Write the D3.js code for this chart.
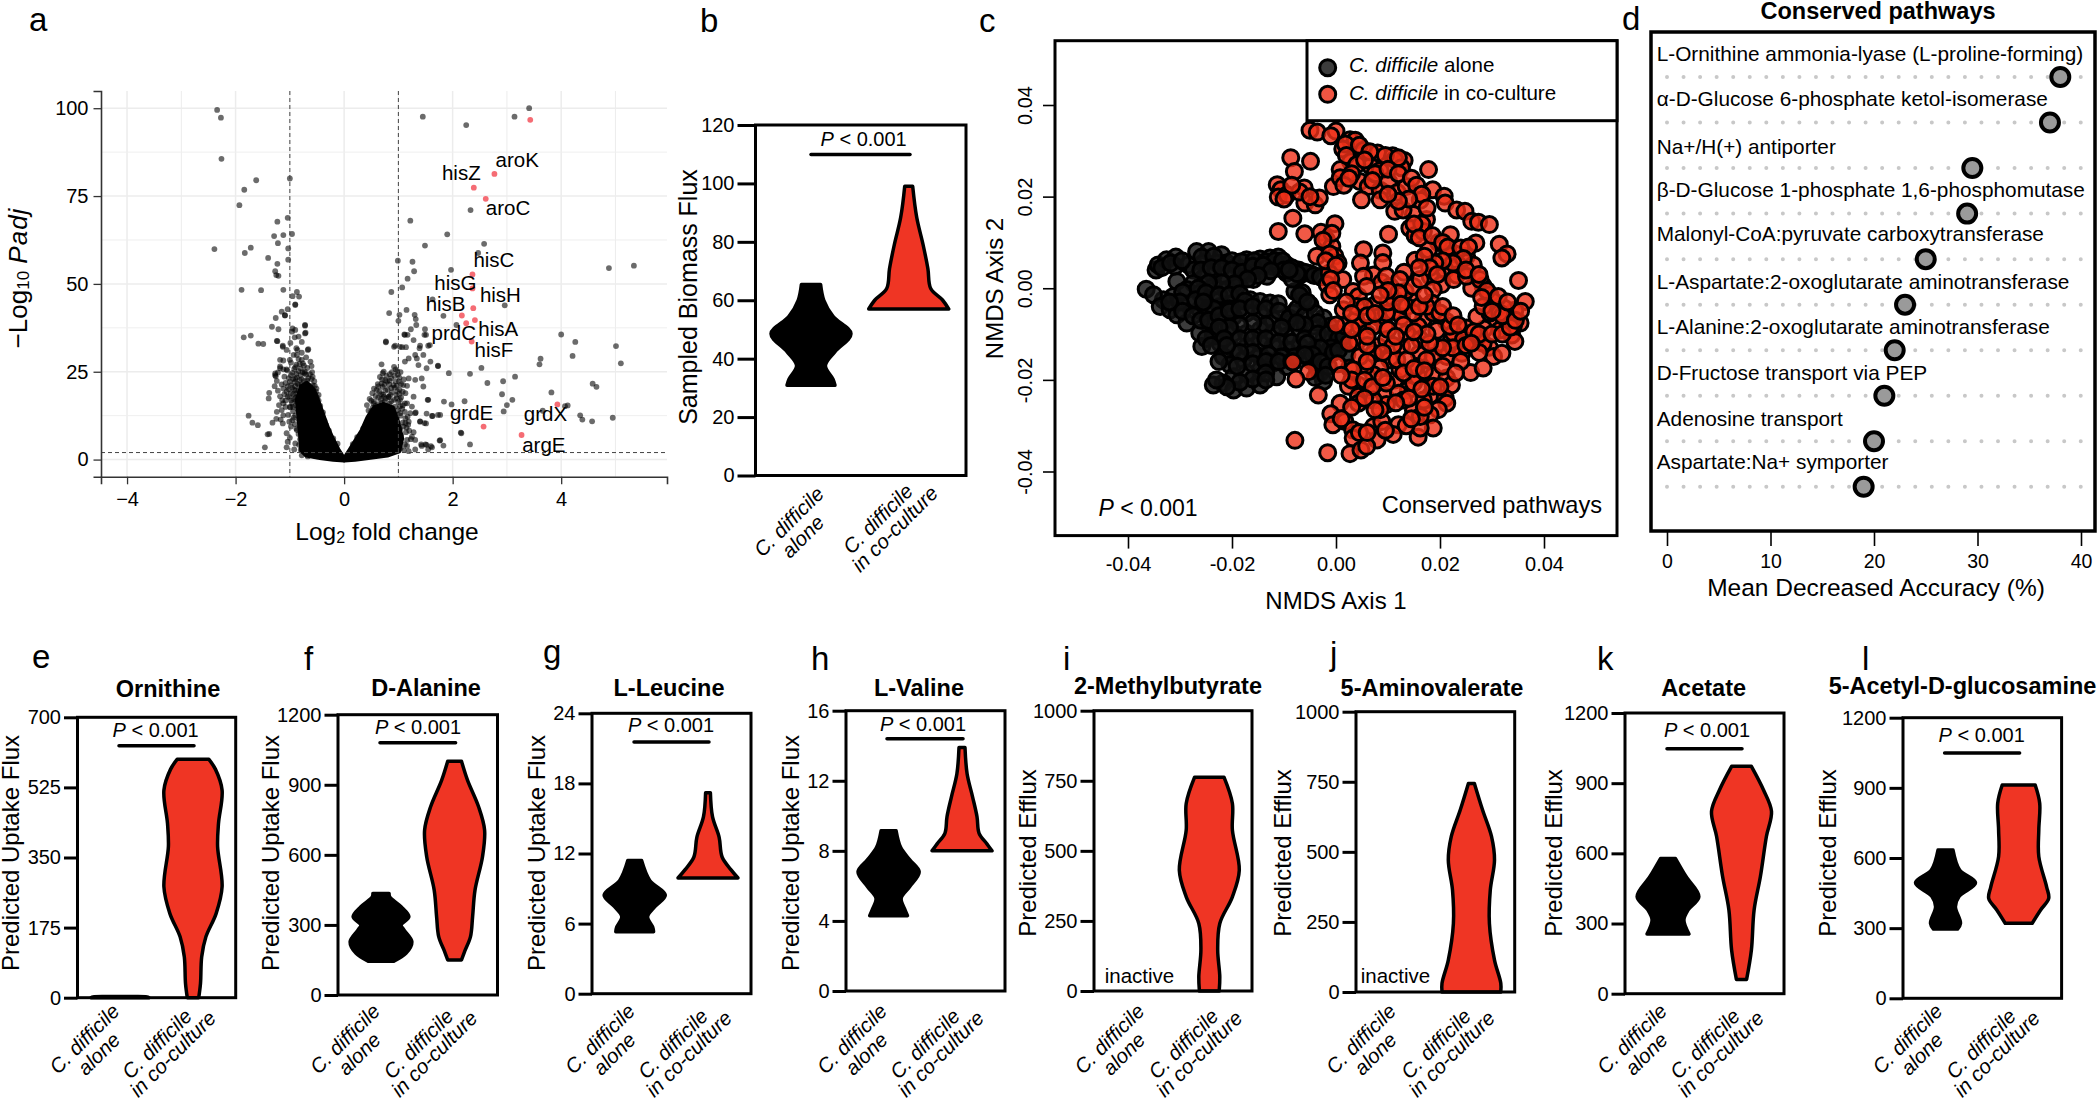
<!DOCTYPE html>
<html><head><meta charset="utf-8">
<script src="https://d3js.org/d3.v7.min.js"></script>
<style>
html,body{margin:0;padding:0;background:#fff}
svg{display:block;font-family:"Liberation Sans",Arial,sans-serif}
text{fill:#000}
</style></head><body>
<svg id="chart" width="2100" height="1102"></svg>
<script>
/* ---------- panel a: volcano (log2 fold change, -log10 Padj) ---------- */
const volcanoSparse=[[-2.34,99.5],[-2.27,97.3],[-2.26,85.6],[-1.62,79.5],[-1.84,76.8],[-1.93,72.4],[-1,80],[-1.04,68.8],[-1.23,67.7],[-.96,64.2],[-1.12,63.9],[-1.29,63.6],[-1.22,61.6],[-1.03,60.1],[-1.72,60.3],[-1.83,58.8],[-2.39,59.9],[-1.4,57.4],[-1.03,56.9],[-1.23,55.7],[-1.27,53.6],[-1.25,52.5],[-1.21,52.3],[-1.89,48.3],[-1.53,48.2],[-1.12,48.3],[-.87,47.7],[-.95,46.5],[-.83,46.4],[-.9,44.2],[-.9,44],[-1.04,42.8],[-1.15,42.1],[-1.09,41.1],[-1.09,41],[-1.26,40.3],[-1.33,37.8],[-1.21,37.1],[-.95,37.3],[-.72,38.1],[-.71,36.1],[-1.85,34.8],[-1.72,35.3],[-1.58,33],[-1.49,32.9],[-1.23,33.7],[-1.13,32.4],[-.99,33.2],[-.91,34.8],[-.66,31.4],
[1.45,97.6],[2.25,95.2],[3.14,97.6],[3.41,100],[1.22,68],[1.9,64.1],[1.49,60.9],[2.58,61.4],[2.33,71],[2.47,58.8],[.99,56.6],[1.26,56.3],[1.29,53.6],[1.17,51.5],[1.97,54],[1.07,49],[.87,47.7],[1.63,45.6],[2.96,43.9],[1.15,42.6],[.83,41.7],[1.02,41.2],[1.3,41.2],[1.32,40],[1.83,40.9],[1,39.5],[1.33,38.3],[1.49,37.1],[2.07,38.3],[1.11,35.6],[1.23,37.1],[1.51,35.5],[1.17,35.5],[.77,33.4],[.94,32.4],[1.07,32],[1.4,32.4],[1.58,32.6],[4.88,54.5],[5.34,55.2],[4,35.6],[4.26,33.5],[5.01,32.3],[4.21,29.5],[3.62,28.7],[5.1,27.4],[3.6,27.1],[2.53,26.1],[1.73,26.7],[2.32,24.4],[1.93,24.6],[3.15,23.6],[2.64,21.8],[2.93,22.3],[4.58,21.6],[4.65,20.7],[2.91,18.6],[3.82,19.1],[3.1,17],[4.07,15.2],[4.12,15.4],[3,15.5],[2.22,16.6],[1.84,16.5],[1.55,17],[1.98,15.7],[2.94,13.7],[3.66,13.9],[4.35,12.6],[4.39,11.4],[4.57,10.9],[4.95,11.9],[2.16,7.5],[2.32,4.3],[1.77,5.5],[1.83,4],[1.63,12.4],[1.77,12.7],[1.52,13.1],[1.5,4.3],[1.55,2.9],[1.6,3.8],[1.42,4.3],[1.19,2.4],[1.32,13.4],[1.4,10.9],[1.48,10.4],[1.23,5.8],[1.28,7.8]];
const volcanoLeftCloud=[[-1.46,3.5],[-1.41,7.2],[-1.38,7.3],[-1.06,3.5],[-1.04,5.1],[-1.06,7.5],[-1.76,12.5],[-1.69,10.5],[-1.59,9.8],[-1.32,10.5],[-1.25,11.6],[-1.24,13.6],[-1.15,14.1],[-1.38,19],[-1.22,19.6],[-1.39,17.4],[-1.27,24],[-1.12,25.7],[-1.04,20.8],[-1.12,16],[-1,15],[-1.03,12.7],[-1.13,10.3],[-.87,8.4],[-.9,4.6],
[-.96,36.4],[-.9,36.9],[-.72,38.3],[-.72,35.9],[-.84,35],[-.78,33.5],[-.67,31.2],[-.88,31.7],[-1.06,31.2],[-1.13,32.1],[-1.24,33.8],[-.87,29.8],[-1,28.4],[-1.18,28.4],[-.78,28.4],[-.6,26.6],[-1.18,26],[-1.06,25.7],[-.72,25],[-.58,23.6],[-1.27,24.5],
[-.86,31.2],[-.78,30.4],[-.93,29.8],[-.7,29.1],[-.84,28.6],[-1.12,28.2],[-.98,27.6],[-.76,27.4],[-.62,27.9],[-1.18,26.5],[-.9,26.3],[-.8,25.9],[-.68,26.1],[-1.05,25.4],[-1.22,24.8],[-.95,24.7],[-.73,24.6],[-.59,24.9],[-1.26,23.7],[-1.1,23.6],[-.87,23.4],[-.66,23.2],[-.78,22.9],[-1.24,22.4],[-1,22.2],[-.91,22.1],[-.55,22.3],[-.7,21.6],[-1.15,21.4],[-.83,21.2],[-1.28,20.9],[-.62,20.7],[-.96,20.5],[-.76,20.4],[-.51,20.2],[-.89,19.7],[-.68,19.4],[-.57,19.1],[-1.06,19.3],[-.8,18.9],[-.94,18.6],[-.72,18.3],[-.61,18.1],[-.47,18.4],[-.85,18],[-1.01,17.8],[-.75,17.5],[-.92,17.2],[-.55,17.4],[-1.08,16.8],[-.83,16.6],[-.67,16.5],[-.96,16.2],[-.5,16.1],[-.78,15.8],[-.89,15.4],[-.99,14.9],[-.62,15.2],[-.44,15.3],[-.86,14.4],[-.7,14.1],[-.94,13.7],[-.55,13.9],[-.82,13.2],[-.39,13.4],[-.9,12.6],[-.66,12.3],[-.48,12.1],[-.84,11.5],[-.95,11.2],[-.76,10.7],[-.91,10.1],[-.36,11],[-.82,9.6],[-.88,8.8],[-.98,9.4],[-.84,7.3],[-.81,5.8],[-.83,4.2],[-.8,2.8],[-1,6.2],[-.92,2.9],[-.28,8.2],[-.2,6],[-.12,4.5],[-.78,1.2],[-.67,.9],
[-.88,27],[-.82,27.2],[-.74,26.7],[-.92,25.8],[-.84,25.2],[-.77,24.9],[-.7,24.2],[-.8,24],[-.88,24.4],[-.98,24],[-.63,24.3],[-.9,23],[-.82,22.6],[-.74,22.4],[-.68,22.5],[-.6,22.9],[-1.02,23.2],[-.94,22.9],[-.86,21.6],[-.78,21.3],[-.66,21],[-.58,21.2],[-1.08,21.8],[-.98,21.2],[-.9,20.9],[-.72,20.7],[-.54,21],[-1.12,20.2],[-1.02,20],[-.92,19.9],[-.84,19.6],[-.76,19.5],[-.62,19.6],[-.52,19.3],[-1.1,18.6],[-.98,18.9],[-.88,18.8],[-.66,18.6],[-.54,18.5],[-1.04,17.9],[-.9,17.6],[-.82,17.7],[-.5,17.7],[-1.18,18],[-1.14,16.9],[-.98,16.8],[-.88,16.7],[-1.2,15.5],[-1.08,15],[-.95,15],[-.47,16.8],[-1.12,12.6],[-1.17,11.4],[-.93,11.9],[-1.01,10.8],[-.44,13.2],[-.41,12],[-.33,9.8]];
const volcanoRightCloud=[[1.28,17.9],[1.54,17],[1.62,12.4],[1.73,12.7],[1.31,13.2],[1.4,10.8],[1.51,10.3],[1.25,6.5],[1.31,5.6],[2.15,7.7],[1.76,5.4],[1.43,3.9],[1.52,4.2],[1.62,3.5],[1.31,2.9],[1.16,5.6],[1.09,9.4],[1.19,10.8],[1.22,13.2],[1.12,16],[1.25,15.1],[1.46,20.8],[1.43,23.1],[1.31,22.7],[1.19,23.1],[1.52,26],[1.73,26.6],[1.59,27.9],[1.37,26.9],[1.34,28.8],[1.12,27.9],[1.19,28.8],[1.31,29.8],[1.46,29.8],[1.55,32.4],[1.39,31.7],[1.28,34],[1.12,35.5],[1.48,35.5],[.77,33.6],[.92,32.1],[1.03,32.1],[1.14,32],[.69,27.1],[.73,25],[.92,26.4],
[.69,21.7],[.79,22.2],[.91,21.2],[1.09,21.2],[.63,20.8],[.82,17.9],[.73,17.9],[.54,16],[.6,14.1],[1.03,17],[1.16,16],
[.95,25.7],[.98,25.2],[.71,24.6],[.84,24.3],[1.04,24.9],[.87,23.2],[.66,23.5],[1.02,23.3],[1.1,22.8],[.76,22.6],[.95,22.2],[.62,21.5],[.83,21.4],[1.05,21.5],[1.16,21],[.71,20.7],[.93,20.5],[.55,20.2],[.8,19.9],[1.02,19.9],[.65,19.3],[.88,19.1],[1.13,18.9],[.72,18.5],[.96,18.4],[.58,18.1],[.82,17.8],[1.05,17.7],[.47,17.3],[.68,17.2],[.92,17],[.75,16.5],[.55,16.5],[1,16.4],[.84,15.9],[.63,15.8],[.42,15.5],[1.08,15.4],[.94,15.1],[.72,15],[.53,14.8],[.84,14.4],[.64,14.1],[.99,14],[.45,14],[1.12,13.6],[.76,13.4],[.91,13.2],[.56,13.3],[.67,12.6],[1.04,12.5],[.83,12.3],[.47,12.5],[.97,11.8],[1.13,11.7],[.6,11.9],[.75,12],[1.08,10.5],[1.03,8.7],[1.14,7.8],[1.05,6.9],[1.12,4.3],[1.04,3.2],[.9,2.7],[.8,1.6],[1.15,9.1],[.35,8.8],[.24,6.4],[.16,4.4],
[.99,24.2],[.88,24.9],[.78,23.8],[.93,23.8],[.7,22.8],[.84,22.5],[1.01,22.2],[.74,21.3],[.97,21],[.87,20.4],[.6,19.8],[.76,19.6],[.98,19.4],[1.08,19.3],[.52,18.9],[.68,18.6],[.85,18.4],[1.02,18.6],[.63,17.6],[.77,17.4],[.97,17.4],[.5,16.8],[.87,16.6],[.7,16.2],[.58,15.3],[.8,15.2],[1.03,15.2],[.66,14.8],[.9,14.4],[1.07,14.5],[.5,13.7],[.7,13.8],[.85,13.6],[1.03,13.2],[.62,13],[.96,12.8],[1.17,12.2],[1.18,9.9],[1.13,10.4],[1.2,8.2],[1.1,2.7],[1.16,3.9]];
const volcanoDenseLeft=[[0,.6],[-.1,3],[-.2,6],[-.3,9.5],[-.38,13],[-.45,16],[-.55,20],[-.68,22],[-.8,21],[-.88,17],[-.85,12],[-.82,7],[-.8,2.5],[-.7,1],[-.45,.3],[-.2,-.2],[0,-.4]];
const volcanoDenseRight=[[0,.6],[.1,3],[.2,5.5],[.32,8.5],[.42,12],[.55,15],[.72,16],[.9,15],[1,11],[1.08,6],[1.02,2.2],[.8,1],[.45,.3],[.2,-.2],[0,-.4]];
const volcanoHighlight=[[3.43,96.7],[2.77,81.3],[2.39,77.4],[2.61,74.2],[2.365,52.7],[2.365,48.7],[2.38,43.1],[2.17,41],[2.25,38.8],[2.41,39.7],[2.35,33.6],[2.57,9.4],[3.27,7],[3.93,15.7]];
const geneNames=["aroK","hisZ","aroC","hisC","hisG","hisH","hisB","hisA","prdC","hisF","grdE","grdX","argE"];
const geneLabelX=[3.19,2.16,3.02,2.76,2.05,2.88,1.87,2.84,2.02,2.76,2.35,3.71,3.68];
const geneLabelY=[84.9,81,71.1,56.3,49.8,46.5,43.9,36.6,35.7,30.6,12.7,12.4,3.8];

/* ---------- panel c: NMDS ordination, axis values in units of 1e-4 ---------- */
const nmdsAlone=[[-346,40],[-342,51],[-326,62],[-308,68],[-310,48],[-284,51],[-268,80],[-245,80],[-220,73],[-229,55],[-255,55],[-274,40],[-210,55],[-191,48],[-172,62],[-146,64],[-127,66],[-111,68],[-95,51],[-72,40],[-50,32],[-121,48],[-146,40],[-165,33],[-185,19],[-210,26],[-236,29],[-255,22],[-274,11],[-306,15],[-287,-3],[-313,-18],[-332,-25],[-365,-2],[-351,-14],[-338,-40],[-319,-47],[-306,-58],[-287,-76],[-262,-47],[-236,-25],[-210,-3],[-191,4],[-159,19],[-133,26],[-95,33],[-69,29],[-262,-11],[-236,4],[-281,-32],[-249,-54],[-223,-40],[-197,-32],[-165,-25],[-146,-29],[-127,-32],[-111,-34],[-79,-7],[-63,-25],[-50,-36],[-24,-65],[-12,-83],[-82,-54],[-95,-76],[-121,-69],[-146,-54],[-172,-54],[-197,-62],[-217,-76],[-242,-83],[-262,-98],[-258,-127],[-223,-120],[-236,-105],[-197,-98],[-172,-98],[-146,-91],[-121,-98],[-95,-105],[-69,-91],[-44,-83],[-24,-112],[-5,-127],[14,-120],[21,-145],[-18,-149],[-44,-134],[-69,-127],[-95,-134],[-121,-127],[-146,-120],[-172,-127],[-197,-134],[-217,-149],[-204,-167],[-178,-156],[-146,-149],[-121,-163],[-95,-171],[-146,-178],[-172,-185],[-197,-193],[-217,-207],[-236,-211],[-197,-222],[-172,-218],[-146,-211],[-114,-193],[-31,-185],[-24,-203],[-37,-171],[-50,-156],[1,-98],
[-335,45],[-318,55],[-296,60],[-258,68],[-235,70],[-200,60],[-182,58],[-158,60],[-135,58],[-118,60],[-103,60],[-85,45],[-60,35],[-42,28],[-30,25],
[-260,40],[-240,45],[-220,45],[-200,40],[-180,35],[-160,48],[-140,50],[-100,40],[-125,38],[-150,28],[-170,20],[-195,10],[-220,12],[-245,12],[-265,0],[-295,-8],[-270,-25],[-250,-10],[-225,-15],[-205,-15],[-185,-12],[-175,-28],[-205,-45],[-235,-45],[-255,-30],[-300,-30],[-320,-30],[-295,-50],[-275,-60],[-260,-70],[-245,-70],[-225,-60],[-205,-50],[-185,-45],[-160,-40],[-135,-45],[-110,-50],[-90,-65],[-75,-45],[-60,-60],[-40,-55],[-35,-75],[-60,-80],[-75,-75],[-105,-85],[-135,-80],[-160,-75],[-185,-80],[-205,-85],[-225,-85],[-250,-110],[-215,-110],[-185,-110],[-160,-110],[-135,-110],[-110,-118],[-85,-118],[-60,-110],[-35,-100],[-15,-100],[5,-110],[-10,-130],[-30,-130],[-55,-120],[-80,-150],[-105,-150],[-130,-145],[-160,-140],[-185,-140],[-210,-125],[-240,-125],[-225,-160],[-190,-170],[-160,-165],[-135,-160],[-110,-160],[-85,-160],[-135,-185],[-160,-198],[-185,-205],[-210,-215],[-230,-200],[-135,-200],[-45,-145],[-30,-160],[-15,-170],[-5,-140],[-60,-145],[-40,-195],[-20,-190],[5,-135],[15,-105],[-65,-10],[-70,-15],[-55,-30],[-84,20],[-75,32],[-90,40]];
const nmdsCoculture=[[-50,345],[-36,341],[0,343],[-10,333],[27,324],[37,323],[13,304],[53,301],[80,295],[109,289],[131,279],[28,276],[8,259],[67,266],[85,257],[113,281],[126,263],[178,259],[-87,285],[-49,277],[-80,255],[-113,226],[-106,215],[-111,199],[-94,204],[-61,219],[-60,186],[-40,182],[-32,197],[-5,222],[8,241],[46,233],[62,222],[85,214],[101,233],[118,209],[135,222],[49,193],[85,193],[162,192],[149,161],[113,168],[129,171],[186,215],[208,201],[210,186],[232,171],[248,168],[261,146],[274,144],[295,139],[174,150],[142,131],[152,115],[168,124],[-83,153],[-111,124],[-60,119],[-2,141],[-29,122],[-19,107],[-8,91],[-2,70],[4,55],[-37,70],[101,118],[220,117],[269,99],[314,96],[329,75],[319,66],[53,84],[47,55],[90,77],[90,56],[152,61],[197,100],[178,84],[229,75],[216,73],[251,70],[235,51],[264,51],[131,35],[181,26],[210,40],[232,29],[351,17],[-13,33],[-17,8],[13,19],[-12,-14],[72,29],[88,13],[53,26],[33,-7],[43,-18],[14,-47],[203,8],[187,-3],[283,5],[261,0],[296,-14],[303,-29],[364,-29],[344,-48],[323,-43],[112,-24],[149,-29],[133,-7],[75,-36],[184,-32],[110,-51],[126,-62],[168,-67],[187,-54],[81,-63],[94,-83],[38,-70],[17,-82],[0,-80],[46,-83],[212,-72],[158,-83],[194,-92],[251,-87],[285,-89],[271,-62],[309,-69],[329,-69],[354,-76],[338,-102],[344,-116],[222,-114],[267,-114],[192,-126],[126,-127],[160,-143],[81,-127],[41,-116],[295,-129],[303,-149],[319,-142],[242,-142],[213,-149],[259,-184],[283,-174],[103,-156],[85,-174],[72,-189],[56,-171],[26,-174],[3,-165],[-83,-161],[-53,-182],[-77,-198],[-34,-233],[43,-211],[24,-214],[43,-236],[8,-251],[43,-251],[113,-200],[139,-222],[158,-194],[187,-191],[213,-196],[222,-211],[182,-233],[94,-236],[120,-229],[97,-254],[210,-240],[213,-251],[149,-267],[197,-265],[181,-276],[-10,-274],[-6,-298],[17,-291],[32,-309],[33,-327],[72,-302],[88,-291],[120,-298],[110,-319],[79,-331],[158,-325],[187,-305],[162,-305],[-79,-332],[-16,-359],[27,-361],[48,-353],[59,-345],
[59,-98],[97,-112],[136,-98],[162,-112],[187,-149],[155,-171],[123,-178],[97,-207],[65,-222],[149,-207],[174,-156],[226,-98],[245,-112],[283,-120],[315,-91],[149,4],[104,4],[59,4],[40,-40],[72,-83],[97,-54],[136,-40],[149,-54],[174,-40],[200,-54],[219,-83],[117,-156],[136,-156],[72,-142],[46,-149],[33,-178],[187,-214],[168,-244],[130,-244],[72,-244],[85,-265],[162,-280],[226,19],[251,26],[277,19],[296,-54],[315,-54],[341,-83],[283,-40],[97,26],[123,19],[162,19],
[18,315],[45,312],[65,298],[95,290],[120,285],[20,290],[40,270],[55,280],[75,250],[100,260],[120,250],[145,240],[155,225],[165,205],[140,195],[120,190],[100,205],[70,235],[30,250],[15,225],[25,240],[175,175],[165,140],[150,140],[160,110],[185,115],[205,100],[215,90],[240,88],[255,90],[245,65],[225,55],[205,60],[190,55],[170,70],[180,45],[160,45],[195,30],[250,40],[275,30],[290,-5],[312,-18],[280,-20],[-70,210],[-85,225],[-100,195],[-50,200],[-8,120],[-25,105],[-12,75],[-20,60],[0,50],[-10,20],[-5,-5],[20,-30],[55,-40],[30,-55],[60,-60],[75,-55],[100,-30],[120,-10],[100,-5],[85,-15],[125,-35],[160,-40],[170,-15],[205,-40],[225,-60],[235,-80],[265,-95],[275,-100],[300,-100],[320,-100],[335,-85],[320,-60],[345,-70],[355,-50],[300,-50],[330,-30],[225,-130],[250,-125],[275,-140],[260,-120],[240,-160],[205,-130],[180,-120],[145,-125],[110,-125],[60,-125],[25,-120],[30,-90],[60,-105],[100,-90],[130,-80],[175,-100],[150,-95],[115,-105],[90,-140],[60,-160],[30,-200],[10,-190],[55,-200],[70,-215],[90,-195],[130,-185],[150,-175],[170,-180],[205,-170],[230,-185],[200,-215],[165,-220],[140,-240],[115,-250],[75,-265],[55,-240],[30,-260],[10,-285],[45,-315],[60,-315],[95,-310],[135,-300],[145,-285],[170,-260]];

/* ---------- panel d: random forest importance ---------- */
const pathwayNames=["L-Ornithine ammonia-lyase (L-proline-forming)","α-D-Glucose 6-phosphate ketol-isomerase","Na+/H(+) antiporter","β-D-Glucose 1-phosphate 1,6-phosphomutase","Malonyl-CoA:pyruvate carboxytransferase","L-Aspartate:2-oxoglutarate aminotransferase","L-Alanine:2-oxoglutarate aminotransferase","D-Fructose transport via PEP","Adenosine transport","Aspartate:Na+ symporter"];
const pathwayAccuracy=[38,37,29.5,29,25,23,22,21,20,19];

/* ---------- violin outlines: [flux value, relative density] ---------- */
const biomassAlone=[[65.4,.24],[60,.32],[54.5,.55],[48.5,1],[42.4,.6],[37.6,.36],[33,.55],[30.9,.6]];
const biomassCo=[[99,.1],[88.4,.2],[79,.36],[70.8,.48],[64,.55],[60,.85],[57,1]];
const ornithineAlone=[[3,.6],[2,.9],[0,.97]];
const ornithineCo=[[595,.53],[570,.75],[518,.97],[435,.85],[377,.82],[277,.97],[210,.77],[152,.43],[102,.29],[36,.25],[0,.19]];
const alanineAlone=[[435,.27],[420,.29],[378,.67],[335,.93],[300,.67],[278,.77],[228,1.03],[178,.83],[145,.43]];
const alanineCo=[[1001,.23],[920,.43],[806,.8],[706,1],[592,.93],[449,.68],[335,.6],[250,.53],[185,.33],[150,.23]];
const leucineAlone=[[11.4,.23],[9.7,.5],[8.45,1.02],[7.45,.67],[6.6,.43],[5.7,.6],[5.3,.63]];
const leucineCo=[[17.2,.08],[15.15,.15],[13.4,.37],[11.7,.47],[10.6,.77],[9.9,1]];
const valineAlone=[[9.15,.25],[8.2,.4],[7.5,.7],[6.8,1.02],[5.95,.7],[5.3,.42],[4.7,.53],[4.3,.63]];
const valineCo=[[13.9,.1],[12.4,.17],[11.1,.35],[9.95,.5],[9,.57],[8.4,.83],[8,1]];
const methylbutyrateCo=[[763,.49],[669,.77],[574,.77],[431,1],[336,.77],[241,.35],[146,.28],[51,.35],[0,.33]];
const aminovalerateCo=[[744,.1],[650,.37],[555,.67],[471,.77],[364,.63],[245,.6],[114,.77],[31,.98],[0,.98]];
const acetateAlone=[[578,.25],[501,.6],[415,1.03],[358,.67],[315,.53],[255,.7]];
const acetateCo=[[972,.33],[872,.73],[779,1],[672,.83],[501,.63],[358,.42],[187,.33],[61,.17]];
const glucosamineAlone=[[634,.25],[549,.47],[494,1],[435,.45],[392,.33],[321,.5],[296,.4]];
const glucosamineCo=[[912,.55],[834,.7],[720,.67],[606,.67],[477,.93],[427,1],[378,.73],[321,.45]];

const biomassTicks=[0,20,40,60,80,100,120];
const ornithineTicks=[0,175,350,525,700];
const thousand200Ticks=[0,300,600,900,1200];
const leucineTicks=[0,6,12,18,24];
const valineTicks=[0,4,8,12,16];
const effluxTicks=[0,250,500,750,1000];
const pLabel="< 0.001";

/* ---------- layout ---------- */
const RED="#ef3524", FONT="Liberation Sans";
const svg=d3.select("#chart");

function label(g,x,y,size,opt={}){
  const t=g.append("text").attr("x",x).attr("y",y).attr("font-size",size)
    .attr("text-anchor",opt.anchor||"start").attr("dominant-baseline",opt.base||"auto");
  if(opt.weight)t.attr("font-weight",opt.weight);
  if(opt.style)t.attr("font-style",opt.style);
  if(opt.rotate!==undefined)t.attr("transform",`rotate(${opt.rotate} ${x} ${y})`);
  return t;
}
function pText(x,y,size){
  const t=label(svg,x,y,size,{anchor:"middle",base:"middle"});
  t.append("tspan").attr("font-style","italic").text("P");
  t.append("tspan").text(" "+pLabel);
}
function panelLetter(s,x,y){label(svg,x,y,33).text(s);}

[["a",29,31],["b",700,31.5],["c",979,31.5],["d",1622,30],["e",32,668],["f",304,670],["g",543,663],["h",811,670],["i",1063,670],["j",1330,665],["k",1597,670],["l",1862,670]].forEach(d=>panelLetter(...d));

/* ---- panel a ---- */
(function(){
  const x=d3.scaleLinear().domain([-4.48,5.95]).range([101,667]);
  const y=d3.scaleLinear().domain([-4.9,104.9]).range([476.8,91]);
  const g=svg.append("g");
  const xg=d3.range(-4,6), yMajor=[0,25,50,75,100], yMinor=[12.5,37.5,62.5,87.5];
  g.selectAll(".gx").data(xg).join("line").attr("x1",d=>x(d)).attr("x2",d=>x(d)).attr("y1",y.range()[1]).attr("y2",y.range()[0]).attr("stroke","#ececec").attr("stroke-width",d=>d%2?1:1.5);
  g.selectAll(".gy").data(yMajor).join("line").attr("x1",x.range()[0]).attr("x2",x.range()[1]).attr("y1",d=>y(d)).attr("y2",d=>y(d)).attr("stroke","#ececec").attr("stroke-width",1.5);
  g.selectAll(".gy2").data(yMinor).join("line").attr("x1",x.range()[0]).attr("x2",x.range()[1]).attr("y1",d=>y(d)).attr("y2",d=>y(d)).attr("stroke","#efefef").attr("stroke-width",1);
  const hull=d3.line().x(d=>x(d[0])).y(d=>y(d[1])).curve(d3.curveLinearClosed);
  [volcanoDenseLeft,volcanoDenseRight].forEach(h=>g.append("path").attr("d",hull(h)).attr("fill","#000").attr("stroke","#000").attr("stroke-width",3).attr("stroke-linejoin","round"));
  const dots=volcanoSparse.concat(volcanoLeftCloud,volcanoRightCloud);
  g.selectAll(".v").data(dots).join("circle").attr("cx",d=>x(d[0])).attr("cy",d=>y(d[1])).attr("r",2.9).attr("fill","#000").attr("opacity",.58);
  g.selectAll(".r").data(volcanoHighlight).join("circle").attr("cx",d=>x(d[0])).attr("cy",d=>y(d[1])).attr("r",2.9).attr("fill","#f4646d").attr("opacity",.95);
  [-1,1].forEach(v=>g.append("line").attr("x1",x(v)).attr("x2",x(v)).attr("y1",y.range()[1]).attr("y2",y.range()[0]).attr("stroke","#444").attr("stroke-dasharray","4 3"));
  g.append("line").attr("x1",x.range()[0]).attr("x2",x.range()[1]).attr("y1",y(2)).attr("y2",y(2)).attr("stroke","#444").attr("stroke-dasharray","4 3");
  geneNames.forEach((n,i)=>label(g,x(geneLabelX[i]),y(geneLabelY[i]),20.5,{anchor:"middle",base:"middle"}).text(n));
  const ax=g.append("g").attr("transform",`translate(0,${y.range()[0]})`).call(d3.axisBottom(x).tickValues([-4,-2,0,2,4]).tickSize(7.5).tickPadding(8).tickFormat(d=>d<0?"−"+(-d):d));
  const ay=g.append("g").attr("transform",`translate(${x.range()[0]},0)`).call(d3.axisLeft(y).tickValues(yMajor).tickSize(7.5).tickPadding(5));
  [ax,ay].forEach(a=>{a.selectAll("text").attr("font-size",20).attr("font-family",FONT);a.select(".domain").attr("stroke","#333").attr("stroke-width",1.6);a.selectAll("line").attr("stroke","#333").attr("stroke-width",1.3);});
  const xt=label(g,387,534,24.5,{anchor:"middle",base:"middle"});
  xt.append("tspan").text("Log");xt.append("tspan").attr("font-size",16).attr("dy",5).text("2");xt.append("tspan").attr("dy",-5).text(" fold change");
  const yt=label(g,20,278,26,{anchor:"middle",base:"middle",rotate:-90});
  yt.append("tspan").text("−Log");yt.append("tspan").attr("font-size",17).attr("dy",5).text("10");yt.append("tspan").attr("dy",-5).text(" ");yt.append("tspan").attr("font-style","italic").attr("letter-spacing",1).text("Padj");
})();

/* ---- violin panels ---- */
function violinPanel(p){
  const g=svg.append("g");
  const y=d3.scaleLinear().domain([0,p.ticks[p.ticks.length-1]]).range([p.bottom,p.top]);
  const w=d3.scaleLinear().domain([0,1]).range([0,p.half]);
  const xc=d3.scalePoint().domain(["alone","co"]).range(p.centres);
  const series=[["alone",p.alone,"#000"],["co",p.co,RED]];
  series.forEach(([k,arr,col])=>{
    if(!arr)return;
    const area=d3.area().y(d=>y(d[0])).x0(d=>xc(k)-w(d[1])).x1(d=>xc(k)+w(d[1])).curve(d3.curveCatmullRom.alpha(.5));
    g.append("path").attr("d",area(arr)).attr("fill",col).attr("stroke","#000").attr("stroke-width",3.5).attr("stroke-linejoin","round");
  });
  g.append("rect").attr("x",p.left).attr("y",p.top).attr("width",p.right-p.left).attr("height",p.bottom-p.top).attr("fill","none").attr("stroke","#000").attr("stroke-width",3);
  const a=g.append("g").attr("transform",`translate(${p.left},0)`).call(d3.axisLeft(y).tickValues(p.ticks).tickSize(p.tickLen||13.5).tickPadding(3).tickFormat(d=>d));
  a.select(".domain").remove();
  a.selectAll("line").attr("stroke","#000").attr("stroke-width",3);
  a.selectAll("text").attr("font-size",p.tickFont||20).attr("font-family",FONT);
  label(g,p.yLabelX,p.yLabelY,p.yFont||24,{anchor:"middle",base:"middle",rotate:-90}).text(p.yLabel);
  if(p.title)label(g,p.titleX,p.titleY,23.5,{anchor:"middle",base:"middle",weight:"bold"}).text(p.title);
  if(p.pBar){
    g.append("line").attr("x1",p.pBar[0]).attr("x2",p.pBar[1]).attr("y1",p.pBar[2]).attr("y2",p.pBar[2]).attr("stroke","#000").attr("stroke-width",3.5).attr("stroke-linecap","round");
    pText(p.pX,p.pY,20);
  }
  if(p.inactive!==undefined)label(g,p.inactive,977.7,20.5,{anchor:"middle",base:"middle"}).text("inactive");
  const lab=p.labels, la=p.labA||[1040,14.5,15], lb=p.labB||[1045,16,10];
  [[lab[0],la,"alone"],[lab[1],lb,"in co-culture"]].forEach(([lx,o,second])=>{
    label(g,lx,o[0],20.5,{anchor:"middle",base:"middle",style:"italic",rotate:-45}).text("C. difficile");
    label(g,lx+o[1],o[0]+o[2],20.5,{anchor:"middle",base:"middle",style:"italic",rotate:-45}).text(second);
  });
}
violinPanel({alone:biomassAlone,co:biomassCo,ticks:biomassTicks,left:755.5,right:966,top:125,bottom:475.5,centres:[811,908.7],half:40,
  yLabel:"Sampled Biomass Flux",yLabelX:690.5,yLabelY:297,yFont:25,pBar:[811,910,154.5],pX:863.6,pY:141,labels:[790,879],labA:[522.7,14,15],labB:[520,17,10],tickLen:18});
const bottomPanels=[
 {alone:ornithineAlone,co:ornithineCo,ticks:ornithineTicks,left:77.5,right:235.7,top:717.3,bottom:997.7,centres:[120,193],yLabel:"Predicted Uptake Flux",yLabelX:13,title:"Ornithine",titleX:168,titleY:691,pBar:[119,194,745.7],pX:155.6,pY:731.7,labels:[85.5,158]},
 {alone:alanineAlone,co:alanineCo,ticks:thousand200Ticks,left:338,right:497.5,top:714.7,bottom:995,centres:[381,454.6],yLabel:"Predicted Uptake Flux",yLabelX:273,title:"D-Alanine",titleX:426,titleY:690,pBar:[380,455.6,742.7],pX:418,pY:729,labels:[346,419.5]},
 {alone:leucineAlone,co:leucineCo,ticks:leucineTicks,left:592,right:751,top:713.3,bottom:993.7,centres:[634.7,708],yLabel:"Predicted Uptake Flux",yLabelX:539,title:"L-Leucine",titleX:669,titleY:690,pBar:[634,709,742],pX:671,pY:727,labels:[601,674]},
 {alone:valineAlone,co:valineCo,ticks:valineTicks,left:846,right:1005,top:710.7,bottom:991,centres:[888.6,962],yLabel:"Predicted Uptake Flux",yLabelX:793,title:"L-Valine",titleX:919,titleY:690,pBar:[887,963,738.7],pX:923,pY:726,labels:[853,926]},
 {co:methylbutyrateCo,ticks:effluxTicks,left:1094,right:1252,top:710.7,bottom:991,centres:[1135,1209.3],yLabel:"Predicted Efflux",yLabelX:1030,title:"2-Methylbutyrate",titleX:1168,titleY:688,inactive:1139.5,labels:[1110.5,1184.5]},
 {co:aminovalerateCo,ticks:effluxTicks,left:1356,right:1514.7,top:711.7,bottom:992,centres:[1398,1471.4],yLabel:"Predicted Efflux",yLabelX:1285,title:"5-Aminovalerate",titleX:1432,titleY:690,inactive:1395.5,labels:[1362,1437]},
 {alone:acetateAlone,co:acetateCo,ticks:thousand200Ticks,left:1625,right:1784,top:713,bottom:993.7,centres:[1668,1741.5],yLabel:"Predicted Efflux",yLabelX:1556,title:"Acetate",titleX:1703.6,titleY:690,pBar:[1667,1742,748.7],pX:1707,pY:731.7,labels:[1633,1706]},
 {alone:glucosamineAlone,co:glucosamineCo,ticks:thousand200Ticks,left:1903,right:2061.6,top:717.7,bottom:998.3,centres:[1945.5,2018.7],yLabel:"Predicted Efflux",yLabelX:1829.5,title:"5-Acetyl-D-glucosamine",titleX:1962.5,titleY:688,pBar:[1944.6,2019.6,753],pX:1981.7,pY:736.7,labels:[1908.6,1982]}
];
bottomPanels.forEach(p=>violinPanel(Object.assign({half:30,yLabelY:853},p)));

/* ---- panel c ---- */
(function(){
  const x=d3.scaleLinear().domain([-400,0]).range([1128,1336]);
  const y=d3.scaleLinear().domain([-400,400]).range([471.5,105]);
  const left=1055,right=1617,top=40.7,bottom=535.6;
  const g=svg.append("g");
  const pts=(arr,fill,alpha)=>g.selectAll(null).data(arr).join("circle").attr("cx",d=>x(d[0])).attr("cy",d=>y(d[1])).attr("r",8)
     .attr("fill",fill).attr("fill-opacity",alpha).attr("stroke","#000").attr("stroke-width",3);
  pts(nmdsAlone,"#111",.82);
  pts(nmdsCoculture,"#ee3018",.8);
  g.append("rect").attr("x",left).attr("y",top).attr("width",right-left).attr("height",bottom-top).attr("fill","none").attr("stroke","#000").attr("stroke-width",3);
  g.append("rect").attr("x",1307).attr("y",top).attr("width",right-1307).attr("height",120.7-top).attr("fill","#fff").attr("stroke","#000").attr("stroke-width",3);
  const ticks=[-400,-200,0,200,400], fmt=d=>(d/1e4).toFixed(2);
  const ax=g.append("g").attr("transform",`translate(0,${bottom})`).call(d3.axisBottom(x).tickValues(ticks).tickSize(13).tickPadding(8).tickFormat(fmt));
  const ay=g.append("g").attr("transform",`translate(${left},0)`).call(d3.axisLeft(y).tickValues(ticks).tickSize(12).tickFormat(fmt));
  [ax,ay].forEach(a=>{a.select(".domain").remove();a.selectAll("line").attr("stroke","#000").attr("stroke-width",1.6);a.selectAll("text").attr("font-size",20).attr("font-family",FONT);});
  ay.selectAll("text").attr("text-anchor","middle").attr("x",-28).attr("dy",null).attr("dominant-baseline","middle").attr("transform","rotate(-90 -28 0)");
  label(g,1336,603,24,{anchor:"middle",base:"middle"}).text("NMDS Axis 1");
  label(g,997,288.5,24,{anchor:"middle",base:"middle",rotate:-90}).text("NMDS Axis 2");
  pText(1148,510,23);
  label(g,1602,507,23.6,{anchor:"end",base:"middle"}).text("Conserved pathways");
  [["#111","alone",67.7,-1],["#ee3018","in co-culture",94.3,1]].forEach(([c,s,cy,off])=>{
    g.append("circle").attr("cx",1327.7).attr("cy",cy).attr("r",8).attr("fill",c).attr("fill-opacity",.82).attr("stroke","#000").attr("stroke-width",3);
    const t=label(g,1349,cy+off,20.6,{base:"middle"});
    t.append("tspan").attr("font-style","italic").text("C. difficile");
    t.append("tspan").text(" "+s);
  });
})();

/* ---- panel d ---- */
(function(){
  const x=d3.scaleLinear().domain([0,40]).range([1667,2081]);
  const rows=d3.scalePoint().domain(pathwayNames).range([77,486.8]);
  const left=1651,right=2095,top=32,bottom=531;
  const labelY=[55.6,100.4,148,191.4,235.8,283,328.8,374.7,420,463.8];
  const g=svg.append("g");
  g.selectAll(".l").data(pathwayNames).join("line").attr("x1",x(0)).attr("x2",right-2).attr("y1",d=>rows(d)).attr("y2",d=>rows(d))
    .attr("stroke","#c8c8c8").attr("stroke-width",4).attr("stroke-linecap","round").attr("stroke-dasharray","0 16.55");
  pathwayNames.forEach((n,i)=>label(g,1656.7,labelY[i],20.8,{base:"middle"}).text(n));
  g.selectAll(".c").data(pathwayNames).join("circle").attr("cx",(d,i)=>x(pathwayAccuracy[i])).attr("cy",d=>rows(d)).attr("r",9).attr("fill","#9a9a9a").attr("stroke","#000").attr("stroke-width",4);
  g.append("rect").attr("x",left).attr("y",top).attr("width",right-left).attr("height",bottom-top).attr("fill","none").attr("stroke","#000").attr("stroke-width",3.5);
  const a=g.append("g").attr("transform",`translate(0,${bottom})`).call(d3.axisBottom(x).tickValues([0,10,20,30,40]).tickSize(15).tickPadding(8));
  a.select(".domain").remove();a.selectAll("line").attr("stroke","#000").attr("stroke-width",1.6);a.selectAll("text").attr("font-size",19.5).attr("font-family",FONT);
  label(g,1876,589.5,24.5,{anchor:"middle",base:"middle"}).text("Mean Decreased Accuracy (%)");
  label(g,1878,13,23.5,{anchor:"middle",base:"middle",weight:"bold"}).text("Conserved pathways");
})();
</script>
</body></html>
